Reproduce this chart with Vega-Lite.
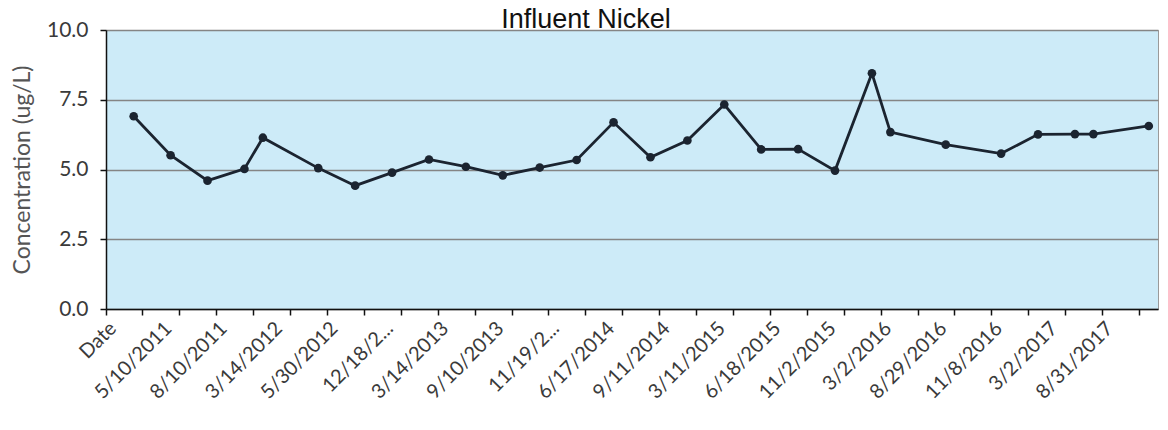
{
  "$schema": "https://vega.github.io/schema/vega-lite/v6.json",
  "autosize": {"type": "none"},
  "width": 1052,
  "height": 279,
  "padding": {"left": 106, "top": 30, "right": 10, "bottom": 121},
  "background": "white",
  "title": {
    "text": "Influent Nickel",
    "font": "Liberation Sans",
    "fontSize": 27,
    "fontWeight": "normal",
    "color": "#111111",
    "anchor": "middle",
    "frame": "group",
    "baseline": "alphabetic",
    "offset": 0,
    "dy": 36,
    "dx": -46
  },
  "config": {
    "view": {"fill": "#cdebf8", "stroke": "#9a9a9a", "strokeWidth": 1}
  },
  "data": {
    "values": [
      {"date": "Date", "nickel": null},
      {"date": "2/8/2011", "nickel": 6.91},
      {"date": "3/15/2011", "nickel": null},
      {"date": "5/10/2011", "nickel": 5.51},
      {"date": "6/14/2011", "nickel": null},
      {"date": "7/12/2011", "nickel": 4.60},
      {"date": "8/10/2011", "nickel": null},
      {"date": "11/9/2011", "nickel": 5.02},
      {"date": "12/13/2011", "nickel": 6.14},
      {"date": "3/14/2012", "nickel": null},
      {"date": "4/11/2012", "nickel": null},
      {"date": "5/9/2012", "nickel": 5.05},
      {"date": "5/30/2012", "nickel": null},
      {"date": "8/15/2012", "nickel": 4.42},
      {"date": "9/12/2012", "nickel": null},
      {"date": "12/18/2012", "nickel": 4.89},
      {"date": "1/15/2013", "nickel": null},
      {"date": "2/12/2013", "nickel": 5.36},
      {"date": "3/14/2013", "nickel": null},
      {"date": "5/14/2013", "nickel": 5.10},
      {"date": "7/9/2013", "nickel": null},
      {"date": "9/10/2013", "nickel": 4.79},
      {"date": "10/8/2013", "nickel": null},
      {"date": "11/5/2013", "nickel": 5.07},
      {"date": "11/19/2013", "nickel": null},
      {"date": "2/11/2014", "nickel": 5.34},
      {"date": "4/15/2014", "nickel": null},
      {"date": "6/17/2014", "nickel": 6.69},
      {"date": "7/15/2014", "nickel": null},
      {"date": "8/12/2014", "nickel": 5.44},
      {"date": "9/11/2014", "nickel": null},
      {"date": "11/12/2014", "nickel": 6.04},
      {"date": "1/13/2015", "nickel": null},
      {"date": "3/11/2015", "nickel": 7.33},
      {"date": "4/14/2015", "nickel": null},
      {"date": "5/12/2015", "nickel": 5.72},
      {"date": "6/18/2015", "nickel": null},
      {"date": "8/12/2015", "nickel": 5.73},
      {"date": "9/9/2015", "nickel": null},
      {"date": "11/2/2015", "nickel": 4.96},
      {"date": "12/2/2015", "nickel": null},
      {"date": "2/3/2016", "nickel": 8.45},
      {"date": "3/2/2016", "nickel": 6.34},
      {"date": "5/4/2016", "nickel": null},
      {"date": "7/6/2016", "nickel": null},
      {"date": "8/29/2016", "nickel": 5.89},
      {"date": "9/14/2016", "nickel": null},
      {"date": "10/12/2016", "nickel": null},
      {"date": "11/8/2016", "nickel": 5.57},
      {"date": "12/7/2016", "nickel": null},
      {"date": "1/11/2017", "nickel": 6.26},
      {"date": "3/2/2017", "nickel": null},
      {"date": "5/3/2017", "nickel": 6.27},
      {"date": "6/7/2017", "nickel": 6.27},
      {"date": "8/31/2017", "nickel": null},
      {"date": "10/11/2017", "nickel": null},
      {"date": "11/8/2017", "nickel": 6.56}
    ]
  },
  "transform": [{"filter": "isValid(datum.nickel)"}],
  "encoding": {
    "x": {
      "field": "date",
      "type": "ordinal",
      "sort": null,
      "title": null,
      "scale": {
        "type": "band",
        "paddingInner": 0,
        "paddingOuter": 0,
        "domain": ["Date","2/8/2011","3/15/2011","5/10/2011","6/14/2011","7/12/2011","8/10/2011","11/9/2011","12/13/2011","3/14/2012","4/11/2012","5/9/2012","5/30/2012","8/15/2012","9/12/2012","12/18/2012","1/15/2013","2/12/2013","3/14/2013","5/14/2013","7/9/2013","9/10/2013","10/8/2013","11/5/2013","11/19/2013","2/11/2014","4/15/2014","6/17/2014","7/15/2014","8/12/2014","9/11/2014","11/12/2014","1/13/2015","3/11/2015","4/14/2015","5/12/2015","6/18/2015","8/12/2015","9/9/2015","11/2/2015","12/2/2015","2/3/2016","3/2/2016","5/4/2016","7/6/2016","8/29/2016","9/14/2016","10/12/2016","11/8/2016","12/7/2016","1/11/2017","3/2/2017","5/3/2017","6/7/2017","8/31/2017","10/11/2017","11/8/2017"]
      },
      "axis": {
        "bandPosition": 0,
        "labelOffset": -2,
        "labelAngle": -45,
        "labelAlign": "right",
        "labelBaseline": "middle",
        "labelPadding": 10,
        "labelFont": "Lato",
        "labelFontSize": 20,
        "labelColor": "#3a3a3a",
        "labelOverlap": false,
        "labelExpr": "round(datum.index * 56) % 3 === 0 ? (length(datum.label) > 9 ? slice(datum.label, 0, 7) + '...' : datum.label) : ''",
        "tickColor": "#111111",
        "tickSize": 6,
        "tickWidth": 1.5,
        "tickOpacity": {"condition": {"test": "round(datum.index * 56) % 2 === 0", "value": 1}, "value": 0},
        "domainColor": "#111111",
        "domainWidth": 1.5,
        "grid": false
      }
    },
    "y": {
      "field": "nickel",
      "type": "quantitative",
      "title": "Concentration (ug/L)",
      "scale": {"domain": [0, 10], "nice": false, "zero": true},
      "axis": {
        "values": [0, 2.5, 5, 7.5, 10],
        "format": ".1f",
        "labelFont": "Lato",
        "labelFontSize": 21,
        "labelColor": "#3a3a3a",
        "labelPadding": 12,
        "tickColor": "#111111",
        "tickSize": 6,
        "tickWidth": 1.5,
        "domainColor": "#111111",
        "domainWidth": 1.5,
        "grid": true,
        "gridColor": "#858585",
        "gridWidth": 1.5,
        "titleFont": "Lato",
        "titleFontSize": 23,
        "titleFontWeight": "normal",
        "titleColor": "#555555",
        "titlePadding": 12
      }
    }
  },
  "layer": [
    {"mark": {"type": "line", "color": "#1b2430", "strokeWidth": 2.8}},
    {"mark": {"type": "point", "filled": true, "size": 75, "color": "#1b2430", "opacity": 1}}
  ]
}
